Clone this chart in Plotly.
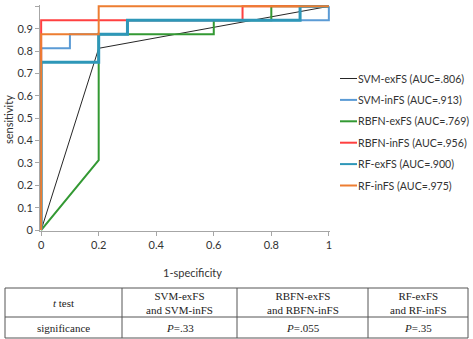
import plotly.graph_objects as go

# ROC curve data (1-specificity, sensitivity)
names = ["SVM-exFS (AUC=.806)", "SVM-inFS (AUC=.913)", "RBFN-exFS (AUC=.769)",
         "RBFN-inFS (AUC=.956)", "RF-exFS (AUC=.900)", "RF-inFS (AUC=.975)"]
fpr_svm_ex = [0, 0.2, 1]
tpr_svm_ex = [0, 0.8125, 1]
fpr_svm_in = [0, 0, 0.1, 0.1, 0.3, 0.3, 1, 1]
tpr_svm_in = [0, 0.8125, 0.8125, 0.875, 0.875, 0.9375, 0.9375, 1]
fpr_rbfn_ex = [0, 0.2, 0.2, 0.6, 0.6, 0.8, 0.8, 1]
tpr_rbfn_ex = [0, 0.3125, 0.875, 0.875, 0.9375, 0.9375, 1, 1]
fpr_rbfn_in = [0, 0, 0.7, 0.7, 1]
tpr_rbfn_in = [0, 0.9375, 0.9375, 1, 1]
fpr_rf_ex = [0, 0, 0.2, 0.2, 0.3, 0.3, 0.9, 0.9, 1]
tpr_rf_ex = [0, 0.75, 0.75, 0.875, 0.875, 0.9375, 0.9375, 1, 1]
fpr_rf_in = [0, 0, 0.2, 0.2, 1]
tpr_rf_in = [0, 0.875, 0.875, 1, 1]

x_ticks = [0, 0.2, 0.4, 0.6, 0.8, 1]
y_ticks = [0, 0.1, 0.2, 0.3, 0.4, 0.5, 0.6, 0.7, 0.8, 0.9, 1]

# t-test table
table_header = ["<i>t</i> test", "SVM-exFS<br>and SVM-inFS", "RBFN-exFS<br>and RBFN-inFS", "RF-exFS<br>and RF-inFS"]
table_row = ["significance", "<i>P</i>=.33", "<i>P</i>=.055", "<i>P</i>=.35"]

colors = ["#262626", "#5b9bd5", "#339933", "#ff4040", "#2e97b8", "#ed7d31"]
widths = [1, 2, 2, 2, 3, 2]
xs = [fpr_svm_ex, fpr_svm_in, fpr_rbfn_ex, fpr_rbfn_in, fpr_rf_ex, fpr_rf_in]
ys = [tpr_svm_ex, tpr_svm_in, tpr_rbfn_ex, tpr_rbfn_in, tpr_rf_ex, tpr_rf_in]

W, H = 473, 339
L, R, T, B = 40, 330, 5, 231  # plot area pixels

def xp(px):
    return (px - L) / (R - L)

def yp(py):
    return (B - py) / (B - T)

fig = go.Figure()
for i in range(6):
    fig.add_trace(go.Scatter(x=xs[i], y=ys[i], mode="lines", name=names[i],
                             showlegend=False,
                             line=dict(color=colors[i], width=widths[i])))

font_sans = "Lato, Open Sans, sans-serif"
font_serif = "Liberation Serif, serif"

fig.update_layout(
    width=W, height=H,
    margin=dict(l=L, r=W - R, t=T, b=H - B),
    paper_bgcolor="white", plot_bgcolor="white",
    font=dict(family=font_sans, size=11, color="#333"),
    showlegend=False,
    xaxis=dict(range=[-0.004, 1.004], tickvals=x_ticks, ticktext=[f"{v:g}" for v in x_ticks],
               showgrid=False, zeroline=False, showline=True, linecolor="#a6a6a6",
               ticks="outside", ticklen=4, tickcolor="#a6a6a6",
               tickfont=dict(size=11, color="#333")),
    yaxis=dict(range=[-0.004, 1.006], tickvals=y_ticks, ticktext=[f"{v:g}" for v in y_ticks],
               showgrid=False, zeroline=False, showline=True, linecolor="#a6a6a6",
               ticks="outside", ticklen=4, tickcolor="#a6a6a6",
               tickfont=dict(size=11, color="#333")),
)

def ann(text, x, y, size, family, color="#333", xanchor="center", angle=0):
    return dict(text=text, x=xp(x), y=yp(y), xref="paper", yref="paper",
                xanchor=xanchor, yanchor="middle", textangle=angle, showarrow=False,
                font=dict(size=size, color=color, family=family))

annotations = [
    ann("1-specificity", 192, 272, 11, font_sans),
    ann("sensitivity", 8, 120, 11, font_sans, angle=-90),
]
shapes = []

# legend (drawn manually to match the short key lines)
leg_x0, leg_x1, leg_text_x, leg_y0, leg_dy = 340, 357, 356, 78.5, 21.4
for i in range(6):
    yy = leg_y0 + i * leg_dy
    shapes.append(dict(type="line", xref="paper", yref="paper",
                       x0=xp(leg_x0), x1=xp(leg_x1), y0=yp(yy), y1=yp(yy),
                       line=dict(color=colors[i], width=min(widths[i], 2))))
    annotations.append(ann(names[i], leg_text_x, yy, 10.6, font_sans, xanchor="left"))

# table geometry in pixels
col_edges = [5, 122, 237, 368, 468]
row_edges = [288, 317, 338]
for yy in row_edges:
    shapes.append(dict(type="line", xref="paper", yref="paper",
                       x0=xp(col_edges[0]), x1=xp(col_edges[-1]), y0=yp(yy), y1=yp(yy),
                       line=dict(color="#555", width=1)))
for xx in col_edges:
    shapes.append(dict(type="line", xref="paper", yref="paper",
                       x0=xp(xx), x1=xp(xx), y0=yp(row_edges[0]), y1=yp(row_edges[-1]),
                       line=dict(color="#555", width=1)))

for j in range(4):
    cx = (col_edges[j] + col_edges[j + 1]) / 2
    annotations.append(ann(table_header[j], cx, (row_edges[0] + row_edges[1]) / 2, 11, font_serif, "#222"))
    annotations.append(ann(table_row[j], cx, (row_edges[1] + row_edges[2]) / 2, 11, font_serif, "#222"))

fig.update_layout(annotations=annotations, shapes=shapes)
fig.write_html("out.html")
